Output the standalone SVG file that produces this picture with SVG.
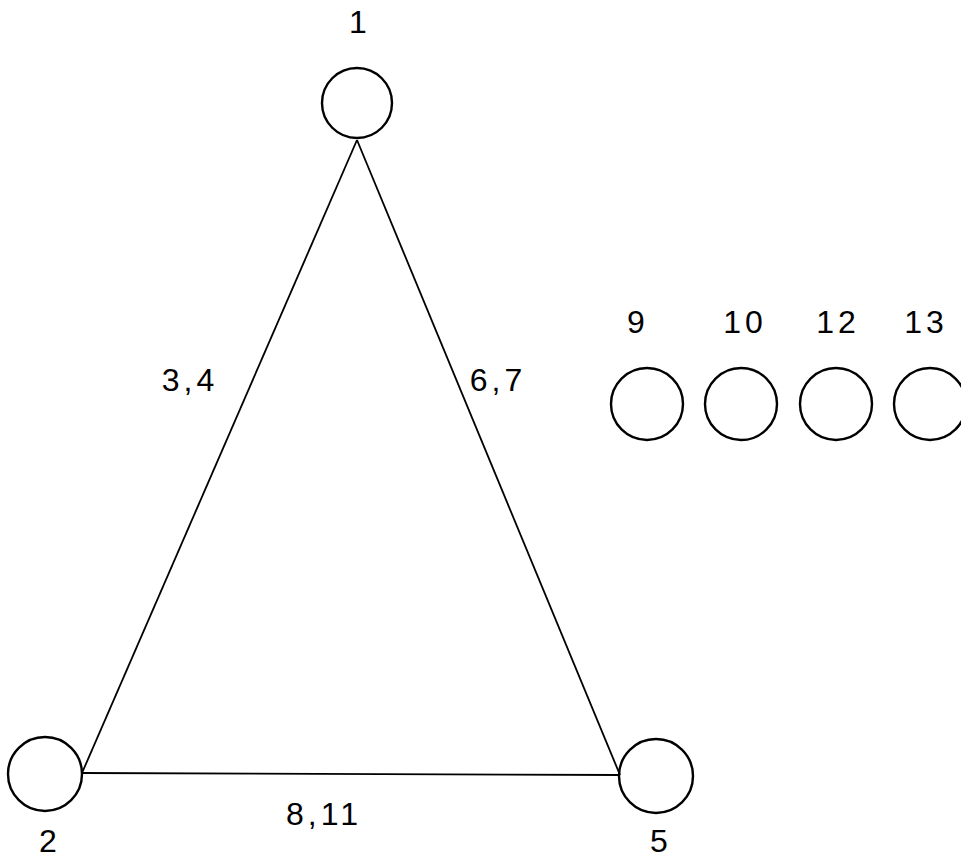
<svg xmlns="http://www.w3.org/2000/svg" width="961" height="860" viewBox="0 0 961 860">
<style>
.n{fill:none;stroke:#000;stroke-width:2.4}
.e{stroke:#000;stroke-width:1.8;fill:none}
text{font-family:"Liberation Sans",Arial,sans-serif;font-size:32px;fill:#000;text-anchor:middle;letter-spacing:4px}
</style>
<rect width="961" height="860" fill="#fff"/>
<g id="edges">
<line class="e" x1="357" y1="140" x2="82" y2="773"/>
<line class="e" x1="357" y1="140" x2="620" y2="775"/>
<line class="e" x1="82" y1="773" x2="620" y2="775"/>
<text x="190" y="391">3,4</text>
<text x="498" y="391">6,7</text>
<text x="324" y="825">8,11</text>
</g>
<g id="node1"><circle class="n" cx="357" cy="103" r="35"/><text x="360" y="33">1</text></g>
<g id="node2"><circle class="n" cx="45" cy="774" r="37"/><text x="50" y="852">2</text></g>
<g id="node5"><circle class="n" cx="656" cy="776" r="37"/><text x="661" y="852">5</text></g>
<g id="node9"><circle class="n" cx="647" cy="404" r="36"/><text x="638" y="333">9</text></g>
<g id="node10"><circle class="n" cx="741" cy="404" r="36"/><text x="745" y="333">10</text></g>
<g id="node12"><circle class="n" cx="836" cy="404" r="36"/><text x="838" y="333">12</text></g>
<g id="node13"><circle class="n" cx="930" cy="404" r="36"/><text x="926" y="333">13</text></g>
</svg>
